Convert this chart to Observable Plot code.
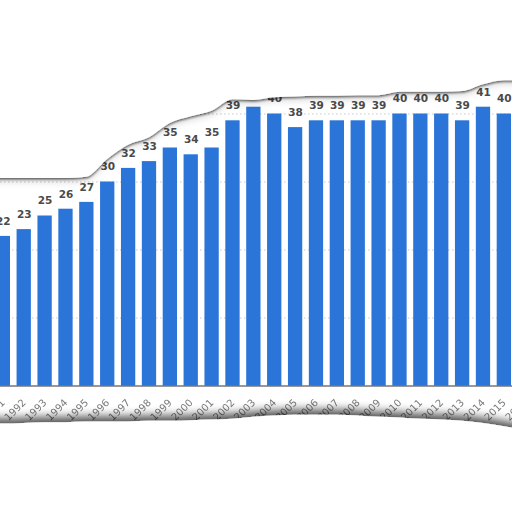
<!DOCTYPE html>
<html>
<head>
<meta charset="utf-8">
<script src="https://cdn.jsdelivr.net/npm/d3@7"></script>
<script src="https://cdn.jsdelivr.net/npm/@observablehq/plot@0.6"></script>
<style>
  html, body { margin: 0; padding: 0; background: #fff; overflow: hidden; }
  #chart svg { display: block; overflow: hidden; }
</style>
</head>
<body>
<div id="chart"></div>
<script>
// Tick labels (full axis; 1990 and 2016 lie outside the visible crop)
const tickYears = [1990,1991,1992,1993,1994,1995,1996,1997,1998,1999,2000,2001,2002,2003,2004,2005,2006,2007,2008,2009,2010,2011,2012,2013,2014,2015,2016];
// Bar categories and values
const barYears = [1991,1992,1993,1994,1995,1996,1997,1998,1999,2000,2001,2002,2003,2004,2005,2006,2007,2008,2009,2010,2011,2012,2013,2014,2015];
const values = [22,23,25,26,27,30,32,33,35,34,35,39,41,40,38,39,39,39,39,40,40,40,39,41,40];
// Gridline values
const gridValues = [10,20,30,40];
// Torn-paper edges (in value units), one per tick year
const tearTop = [30.5,30.5,30.5,30.5,30.5,30.7,33.3,35.4,36.5,38.6,39.6,40.4,42.1,42.0,42.4,42.5,42.6,42.6,42.7,42.7,43.2,43.2,43.2,43.3,44.3,44.9,44.9];
const tearBottom = [-5.6,-5.6,-5.5,-5.4,-5.4,-5.3,-5.3,-5.3,-5.2,-5.2,-5.1,-5.0,-4.9,-4.6,-4.4,-4.3,-4.3,-4.3,-4.4,-4.6,-4.7,-4.9,-5.0,-5.2,-5.5,-6.0,-6.5];

const halfBar = 0.3425; // half of bar width, in years
const bars = barYears.map((year, i) => ({year, value: values[i]}));
const tear = tickYears.map((year, i) => ({year, top: tearTop[i], bottom: tearBottom[i]}));

const chart = Plot.plot({
  width: 512,
  height: 512,
  marginLeft: 0,
  marginRight: 0,
  marginTop: 45.5,
  marginBottom: 126.5,
  style: {background: "#fff", overflow: "hidden", fontFamily: "'DejaVu Sans', sans-serif"},
  x: {domain: [1990, 2017], range: [-18.025, 545.6], label: null},
  y: {domain: [0, 50], range: [385.5, 45.5], axis: null},
  marks: [
    Plot.ruleY(gridValues, {stroke: "#c8c8c8", strokeDasharray: "1.5,2.5"}),
    Plot.rectY(bars, {x1: d => d.year - halfBar, x2: d => d.year + halfBar, y: "value", fill: "#2b75d9"}),
    Plot.ruleY([0], {stroke: "#333", strokeWidth: 1.2}),
    Plot.text(bars, {x: "year", y: "value", text: d => String(d.value), dy: -15, lineAnchor: "middle", fontWeight: "bold", fontSize: 10.5, fill: "#4a4a4a"}),
    Plot.axisX({ticks: tickYears, tickRotate: -45, tickSize: 0, tickPadding: 15, fontSize: 10, color: "#7a7a7a", tickFormat: d => String(d), label: null}),
    Plot.areaY(tear, {x: "year", y1: "top", y2: 80, fill: "#fff", curve: "monotone-x"}),
    Plot.areaY(tear, {x: "year", y1: "bottom", y2: -40, fill: "#fff", curve: "monotone-x"})
  ]
});

// SVG filters for torn-paper shadows
const ns = "http://www.w3.org/2000/svg";
const defs = document.createElementNS(ns, "defs");
defs.innerHTML = `
<filter id="shTop" x="-10%" y="-10%" width="120%" height="130%">
  <feDropShadow dx="0" dy="1.5" stdDeviation="1.3" flood-color="#000" flood-opacity="0.6"/>
  <feDropShadow dx="0" dy="3" stdDeviation="3" flood-color="#000" flood-opacity="0.15"/>
</filter>
<filter id="shBot" x="-10%" y="-40%" width="120%" height="160%">
  <feDropShadow dx="0" dy="-5" stdDeviation="5" flood-color="#000" flood-opacity="0.7"/>
</filter>
<filter id="soft"><feGaussianBlur stdDeviation="0.45"/></filter>`;
chart.insertBefore(defs, chart.firstChild);
const areas = chart.querySelectorAll('g[aria-label="area"]');
if (areas[0]) areas[0].setAttribute("filter", "url(#shTop)");
if (areas[1]) areas[1].setAttribute("filter", "url(#shBot)");
const xLabels = chart.querySelector('g[aria-label="x-axis tick label"]');
if (xLabels) xLabels.setAttribute("filter", "url(#soft)");

document.getElementById("chart").appendChild(chart);
</script>
</body>
</html>
